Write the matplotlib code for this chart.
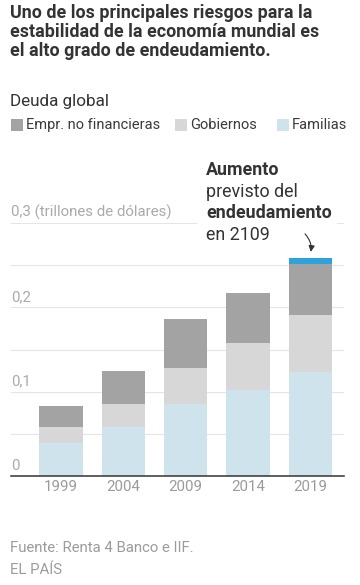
import matplotlib.pyplot as plt
from matplotlib.patches import Rectangle

plt.rcParams['font.family'] = ['Roboto', 'DejaVu Sans']

# Data ("trillones de dólares")
years = ['1999', '2004', '2009', '2014', '2019']
familias = [0.0387, 0.0576, 0.0859, 0.1017, 0.1230]
gobiernos = [0.0196, 0.0283, 0.0426, 0.0563, 0.0680]
empresas = [0.0248, 0.0391, 0.0575, 0.0595, 0.0604]
aumento_2019 = 0.0071

ytick_vals = [0, 0.1, 0.2, 0.3]
ytick_labels = ['0', '0,1', '0,2', '0,3 (trillones de dólares)']

c_emp = '#a3a3a3'
c_gob = '#d7d7d7'
c_fam = '#cee3eb'
c_aum = '#2ea3db'
dark = '#333333'
grey = '#9b9b9b'

W, H = 360, 585
fig = plt.figure(figsize=(3.6, 5.85), dpi=100)

def fx(px):
    return px / W

def fy(py):
    return 1 - py / H

ax = fig.add_axes([fx(11), fy(476), fx(344) - fx(11), fy(223) - fy(476)])

x = list(range(len(years)))
w = 0.695
bot2 = [f + g for f, g in zip(familias, gobiernos)]
tot = [b + e for b, e in zip(bot2, empresas)]
ax.bar(x, familias, w, color=c_fam, zorder=2)
ax.bar(x, gobiernos, w, bottom=familias, color=c_gob, zorder=2)
ax.bar(x, empresas, w, bottom=bot2, color=c_emp, zorder=2)
ax.bar(x[-1], aumento_2019, w, bottom=tot[-1], color=c_aum, zorder=2)

ax.set_xlim(-0.80, 4.54)
ax.set_ylim(0, 0.3)
ax.set_yticks([i * 0.05 for i in range(7)])
ax.yaxis.grid(True, color='#e5e5e5', linewidth=0.8, zorder=0)
ax.tick_params(axis='y', length=0, labelleft=False)
ax.set_xticks(x)
ax.set_xticklabels(years, fontsize=10.8, color=grey)
ax.tick_params(axis='x', length=0, pad=3)
for s in ['top', 'right', 'left']:
    ax.spines[s].set_visible(False)
ax.spines['bottom'].set_color(dark)
ax.spines['bottom'].set_linewidth(1.1)
ax.spines['bottom'].set_zorder(3)

for v, lab in zip(ytick_vals, ytick_labels):
    ax.annotate(lab, xy=(0, v), xycoords=ax.get_yaxis_transform(),
                xytext=(0, 2.5), textcoords='offset points',
                ha='left', va='bottom', fontsize=10.8, color='#aaaaaa')

# Title
title = ['Uno de los principales riesgos para la',
         'estabilidad de la economía mundial es',
         'el alto grado de endeudamiento.']
for i, line in enumerate(title):
    fig.text(fx(10), fy(13 + i * 19), line, fontsize=12.9, fontweight='bold',
             color=dark, va='center', ha='left')

fig.text(fx(10), fy(101), 'Deuda global', fontsize=12.3, color=dark,
         va='center', ha='left')

# Legend
legend = [('Empr. no financieras', c_emp, 11), ('Gobiernos', c_gob, 175),
          ('Familias', c_fam, 277)]
for lab, col, px in legend:
    fig.add_artist(Rectangle((fx(px), fy(131)), fx(12), 12 / H,
                             transform=fig.transFigure, fc=col, ec='none'))
    fig.text(fx(px + 15), fy(125), lab, fontsize=10.5, color='#3a3a3a',
             va='center', ha='left')

# Annotation
fig.add_artist(Rectangle((fx(197), fy(229)), fx(140), 12 / H,
                         transform=fig.transFigure, fc='white', ec='none',
                         zorder=1))
ann = [('Aumento', 'bold', 170), ('previsto del', 'normal', 192),
       ('endeudamiento', 'bold', 213), ('en 2109', 'normal', 235)]
for txt, wt, py in ann:
    fig.text(fx(206), fy(py), txt, fontsize=12.9, fontweight=wt, color=dark,
             va='center', ha='left', zorder=3)

ax.annotate('', xy=(x[-1], tot[-1] + aumento_2019 + 0.004),
            xytext=(303, H - 232), textcoords='figure pixels',
            arrowprops=dict(arrowstyle='-|>', color=dark, lw=0.8,
                            mutation_scale=9,
                            connectionstyle='arc3,rad=-0.3'))

# Source
fig.text(fx(10), fy(548), 'Fuente: Renta 4 Banco e IIF.', fontsize=10.7,
         color=grey, va='center', ha='left')
fig.text(fx(10), fy(570), 'EL PAÍS', fontsize=10.7, color=grey,
         va='center', ha='left')

fig.savefig('out.png', dpi=100, facecolor='white')
